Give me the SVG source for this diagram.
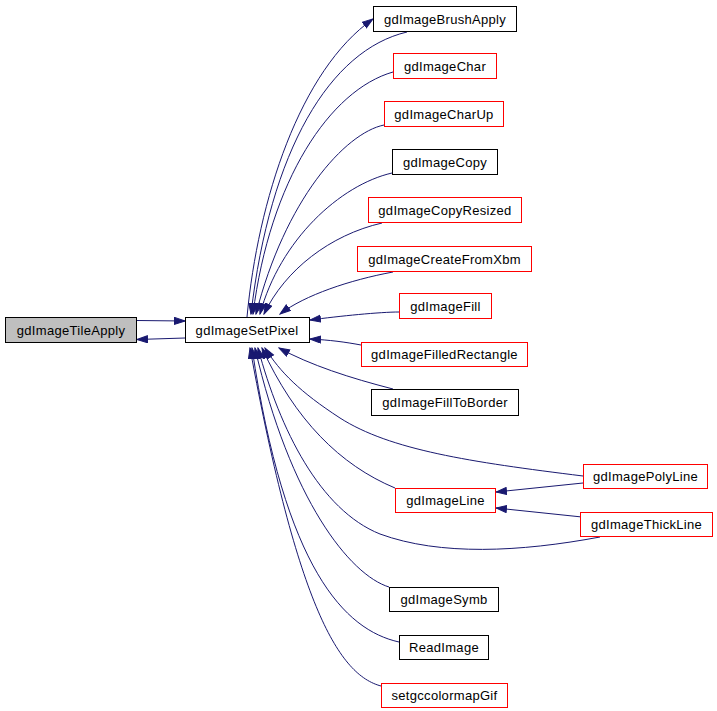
<svg xmlns="http://www.w3.org/2000/svg" width="717" height="711" viewBox="0 0 717 711">
<style>
.n rect{fill:#fff;stroke:#000;stroke-width:1}
.n.r rect{stroke:#f00}
.n.g rect{fill:#bfbfbf}
.n text{font-family:"Liberation Sans",Arial,sans-serif;font-size:13px;letter-spacing:0.3px;fill:#000;text-anchor:middle}
#edges path{fill:none;stroke:#191970;stroke-width:1;marker-end:url(#ah)}
</style>
<defs>
<marker id="ah" markerUnits="userSpaceOnUse" markerWidth="12" markerHeight="9" refX="11" refY="4" orient="auto" viewBox="0 0 12 9">
<path d="M0.5,0.5 L11,4 L0.5,7.5 z" fill="#191970" stroke="#191970"/>
</marker>
</defs>
<rect width="717" height="711" fill="#fff"/>
<g id="edges">
<path d="M137,320.5 L185,321"/>
<path d="M185,338 L137,339.5"/>
<path d="M247,317 C258,200 300,70 373,19"/>
<path d="M407,32 C330,50 270,150 251,314"/>
<path d="M393,72 C330,90 270,180 253,314"/>
<path d="M384,125 C345,133 285,200 256,314"/>
<path d="M392,173 C340,185 280,240 260,314"/>
<path d="M382,223 C330,235 285,270 264,314"/>
<path d="M393,272 C350,280 305,295 280,314"/>
<path d="M399,312 C380,312 340,316 310,320"/>
<path d="M361,345 C345,342 330,340 310,339"/>
<path d="M393,389 C350,378 310,365 279,348"/>
<path d="M583,476 C470,462 390,450 340,418 C300,392 280,372 265,348"/>
<path d="M395,488 C340,465 295,420 262,348"/>
<path d="M600,537 C520,552 440,556 380,534 C320,510 280,430 258,348"/>
<path d="M389,587 C350,575 290,500 255,348"/>
<path d="M399,642 C345,630 285,570 252,348"/>
<path d="M381,686 C340,675 298,610 250,348"/>
<path d="M583,483 L496,492"/>
<path d="M582,517 L496,508"/>
</g>
<g id="gdImageTileApply" class="n g"><rect x="5.5" y="317.5" width="131" height="25"/><text x="71" y="335">gdImageTileApply</text></g>
<g id="gdImageSetPixel" class="n"><rect x="185.5" y="317.5" width="124" height="25"/><text x="247" y="335">gdImageSetPixel</text></g>
<g id="gdImageBrushApply" class="n"><rect x="373.5" y="6.5" width="143" height="25"/><text x="445" y="24">gdImageBrushApply</text></g>
<g id="gdImageChar" class="n r"><rect x="393.5" y="53.5" width="103" height="25"/><text x="445" y="71">gdImageChar</text></g>
<g id="gdImageCharUp" class="n r"><rect x="384.5" y="101.5" width="119" height="25"/><text x="444" y="119">gdImageCharUp</text></g>
<g id="gdImageCopy" class="n"><rect x="392.5" y="149.5" width="105" height="25"/><text x="445" y="167">gdImageCopy</text></g>
<g id="gdImageCopyResized" class="n r"><rect x="368.5" y="197.5" width="153" height="25"/><text x="445" y="215">gdImageCopyResized</text></g>
<g id="gdImageCreateFromXbm" class="n r"><rect x="357.5" y="246.5" width="174" height="25"/><text x="444.5" y="264">gdImageCreateFromXbm</text></g>
<g id="gdImageFill" class="n r"><rect x="399.5" y="293.5" width="92" height="25"/><text x="445.5" y="311">gdImageFill</text></g>
<g id="gdImageFilledRectangle" class="n r"><rect x="361.5" y="342.5" width="166" height="24"/><text x="444.5" y="359">gdImageFilledRectangle</text></g>
<g id="gdImageFillToBorder" class="n"><rect x="371.5" y="389.5" width="147" height="26"/><text x="445" y="407">gdImageFillToBorder</text></g>
<g id="gdImagePolyLine" class="n r"><rect x="583.5" y="464.5" width="124" height="24"/><text x="645.5" y="481">gdImagePolyLine</text></g>
<g id="gdImageLine" class="n r"><rect x="395.5" y="488.5" width="100" height="24"/><text x="445.5" y="505">gdImageLine</text></g>
<g id="gdImageThickLine" class="n r"><rect x="580.5" y="512.5" width="132" height="24"/><text x="646.5" y="529">gdImageThickLine</text></g>
<g id="gdImageSymb" class="n"><rect x="389.5" y="587.5" width="109" height="24"/><text x="444" y="604">gdImageSymb</text></g>
<g id="ReadImage" class="n"><rect x="399.5" y="635.5" width="89" height="24"/><text x="444" y="652">ReadImage</text></g>
<g id="setgccolormapGif" class="n r"><rect x="381.5" y="683.5" width="126" height="24"/><text x="444.5" y="700">setgccolormapGif</text></g>
</svg>
